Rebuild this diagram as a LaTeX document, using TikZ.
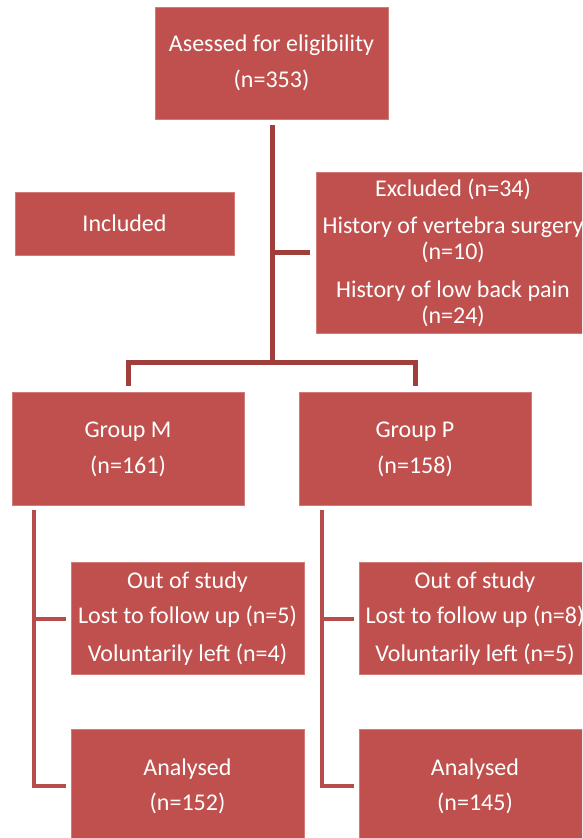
\documentclass[tikz,border=0pt]{standalone}
\usepackage{fontspec}
\setmainfont{Carlito}
\definecolor{boxred}{HTML}{C0504D}
\definecolor{boxedge}{HTML}{D27A77}
\definecolor{darkline}{HTML}{A03E3C}
\definecolor{lightline}{HTML}{B64D4B}
\tikzset{
  stage/.style={rectangle,fill=boxred,draw=boxedge,line width=0.8pt,text=white,
    align=center,inner sep=0pt,font=\fontsize{24}{26}\selectfont},
  toplink/.style={draw=darkline,line width=5pt},
  sublink/.style={draw=lightline,line width=4pt}
}
\begin{document}
\begin{tikzpicture}[x=1pt,y=-1pt]
\useasboundingbox (0,0) rectangle (582,838);
\clip (0,0) rectangle (582,838);

\node [stage,minimum width=233pt,minimum height=112pt] (assessed) at (271.5,63) {Asessed for eligibility\\[10pt] (n=353)};
\node [stage,minimum width=219pt,minimum height=63pt] (included) at (124.5,223.5) {Included};
\node [stage,minimum width=274pt,minimum height=161pt] (excluded) at (453,252.5) {Excluded (n=34)\\[11pt] History of vertebra surgery\\ (n=10)\\[12pt] History of low back pain\\ (n=24)};

\node [stage,minimum width=232pt,minimum height=113pt] (groupM) at (128,449) {Group M\\[10pt] (n=161)};
\node [stage,minimum width=232pt,minimum height=113pt] (groupP) at (415,449) {Group P\\[10pt] (n=158)};

\node [stage,minimum width=233pt,minimum height=112pt] (outM) at (187.5,618.5) {Out of study\\[9pt] Lost to follow up (n=5)\\[12pt] Voluntarily left (n=4)};
\node [stage,minimum width=232pt,minimum height=112pt] (outP) at (475,618.5) {Out of study\\[9pt] Lost to follow up (n=8)\\[12pt] Voluntarily left (n=5)};

\node [stage,minimum width=233pt,minimum height=113pt] (analysedM) at (187.5,786) {Analysed\\[9pt] (n=152)};
\node [stage,minimum width=232pt,minimum height=113pt] (analysedP) at (475,786) {Analysed\\[9pt] (n=145)};

\coordinate (split) at (272,362);
\coordinate (trunkM) at (34,510);
\coordinate (trunkP) at (322,510);

\draw [toplink] ([yshift=-6pt]assessed.south -| split) -- (split);
\draw [toplink] (split |- excluded.west) -- ([xshift=-6pt]excluded.west);
\draw [toplink] ([yshift=6pt]groupM.north) |- (split) -| ([yshift=6pt]groupP.north);

\draw [sublink] (trunkM) |- ([xshift=-5pt]analysedM.west);
\draw [sublink] (trunkM |- outM.west) -- ([xshift=-5pt]outM.west);
\draw [sublink] (trunkP) |- ([xshift=-5pt]analysedP.west);
\draw [sublink] (trunkP |- outP.west) -- ([xshift=-5pt]outP.west);
\end{tikzpicture}
\end{document}
